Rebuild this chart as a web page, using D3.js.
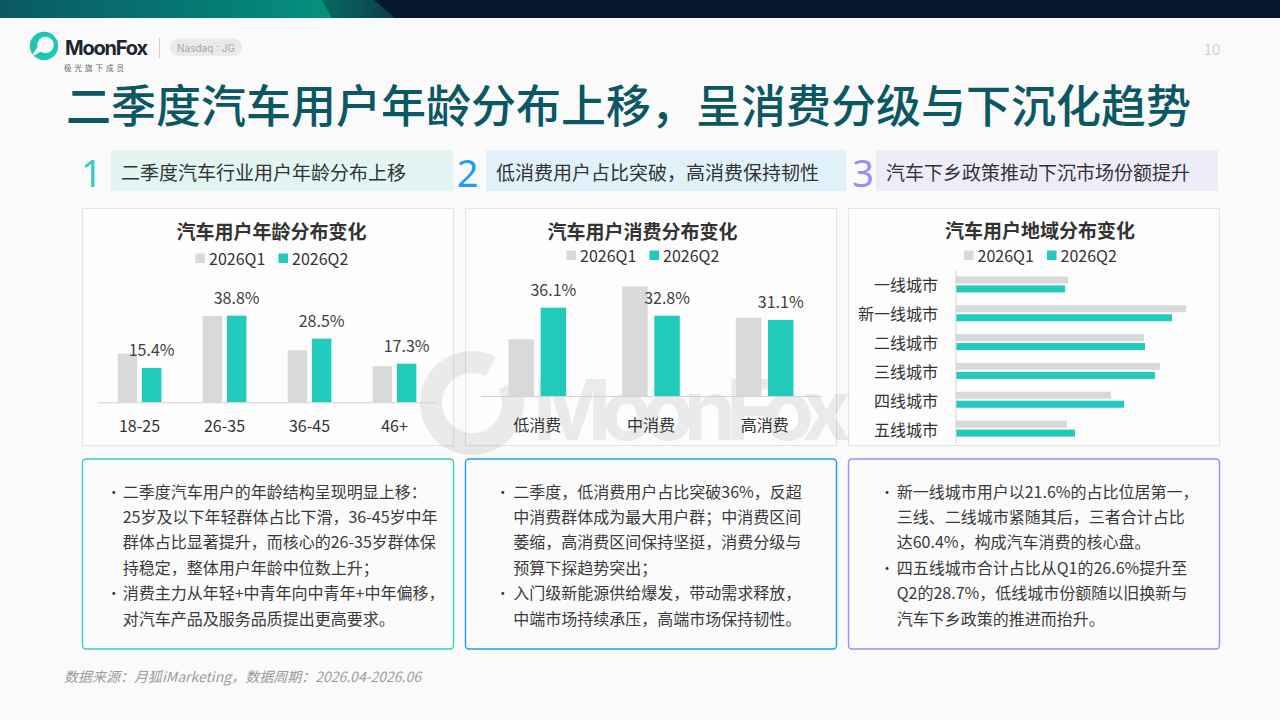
<!DOCTYPE html>
<html>
<head>
<meta charset="utf-8">
<script src="https://cdn.jsdelivr.net/npm/d3@7"></script>
<style>
	body { margin: 0; background: #fafafa; }
	svg { display: block; font-family: "Noto Sans CJK SC", "Noto Sans", sans-serif; }
</style>
</head>
<body>
<div id="slide"></div>
<script>
// chart data
var seriesNames = ['2026Q1', '2026Q2'];

var ageGroups = ['18-25', '26-35', '36-45', '46+'];
var ageQ1 = [21.8, 38.7, 23.3, 16.2];
var ageQ2 = [15.4, 38.8, 28.5, 17.3];

var spendGroups = ['低消费', '中消费', '高消费'];
var spendQ1 = [23.2, 44.8, 32.0];
var spendQ2 = [36.1, 32.8, 31.1];

var cityTiers = ['一线城市', '新一线城市', '二线城市', '三线城市', '四线城市', '五线城市'];
var cityQ1 = [11.2, 23.0, 18.8, 20.4, 15.5, 11.1];
var cityQ2 = [10.9, 21.6, 18.9, 19.9, 16.8, 11.9];

var chartTitles = ['汽车用户年龄分布变化', '汽车用户消费分布变化', '汽车用户地域分布变化'];
var headers = ['二季度汽车行业用户年龄分布上移', '低消费用户占比突破，高消费保持韧性', '汽车下乡政策推动下沉市场份额提升'];
var notes = [
	[['二季度汽车用户的年龄结构呈现明显上移：', '25岁及以下年轻群体占比下滑，36-45岁中年', '群体占比显著提升，而核心的26-35岁群体保', '持稳定，整体用户年龄中位数上升；'],
	 ['消费主力从年轻+中青年向中青年+中年偏移，', '对汽车产品及服务品质提出更高要求。']],
	[['二季度，低消费用户占比突破36%，反超', '中消费群体成为最大用户群；中消费区间', '萎缩，高消费区间保持坚挺，消费分级与', '预算下探趋势突出；'],
	 ['入门级新能源供给爆发，带动需求释放，', '中端市场持续承压，高端市场保持韧性。']],
	[['新一线城市用户以21.6%的占比位居第一，', '三线、二线城市紧随其后，三者合计占比', '达60.4%，构成汽车消费的核心盘。'],
	 ['四五线城市合计占比从Q1的26.6%提升至', 'Q2的28.7%，低线城市份额随以旧换新与', '汽车下乡政策的推进而抬升。']]
];

var grey = '#d9d9d9';
var teal = '#21cbbc';
var accents = ['#36d0c0', '#1f9df0', '#9b8ef0'];
var headerFills = ['#e2f5f2', '#e1f1fa', '#eeecf9'];
var cols = [82, 465, 848];
var colW = 371;

var svg = d3.select('#slide')
	.append('svg')
	.attr('width', 1280)
	.attr('height', 720);

svg.append('rect').attr('width', 1280).attr('height', 720).attr('fill', '#fafafa');

// top band
var defs = svg.append('defs');
var bandGrad = defs.append('linearGradient').attr('id', 'band-grad');
bandGrad.append('stop').attr('offset', '0%').attr('stop-color', '#0b5864');
bandGrad.append('stop').attr('offset', '70%').attr('stop-color', '#037f77');
bandGrad.append('stop').attr('offset', '100%').attr('stop-color', '#07917e');
var midGrad = defs.append('linearGradient').attr('id', 'mid-grad');
midGrad.append('stop').attr('offset', '0%').attr('stop-color', '#066a62');
midGrad.append('stop').attr('offset', '100%').attr('stop-color', '#0b3e48');

svg.append('rect').attr('width', 1280).attr('height', 18).attr('fill', '#051729');
svg.append('polygon').attr('points', '322,0 374,0 395,18 332,18').attr('fill', 'url(#mid-grad)');
svg.append('polygon').attr('points', '0,0 322,0 332,18 0,18').attr('fill', 'url(#band-grad)');

// logo
var logo = svg.append('g');
logo.append('circle').attr('cx', 44).attr('cy', 46).attr('r', 14.2).attr('fill', '#1ec7b2');
logo.append('circle').attr('cx', 45.5).attr('cy', 45).attr('r', 8.3).attr('fill', '#fafafa');
logo.append('path').attr('d', 'M37.5,47 L31,57 L42,51 Z').attr('fill', '#fafafa');
logo.append('text')
	.attr('x', 65).attr('y', 48)
	.attr('dominant-baseline', 'central')
	.attr('font-family', 'Inter, "Noto Sans", sans-serif')
	.attr('font-weight', 700)
	.attr('font-size', 20)
	.attr('textLength', 83)
	.attr('fill', '#1b2631')
	.text('MoonFox');
logo.append('text')
	.attr('x', 64).attr('y', 67.5)
	.attr('dominant-baseline', 'central')
	.attr('font-size', 7.5)
	.attr('letter-spacing', 3)
	.attr('fill', '#666')
	.text('极光旗下成员');
logo.append('line')
	.attr('x1', 159.5).attr('x2', 159.5).attr('y1', 38).attr('y2', 58)
	.attr('stroke', '#cfcfcf');
logo.append('rect')
	.attr('x', 170).attr('y', 38.5).attr('width', 72).attr('height', 17.5).attr('rx', 8.75)
	.attr('fill', '#e8eaed');
logo.append('text')
	.attr('x', 206).attr('y', 47.5)
	.attr('text-anchor', 'middle')
	.attr('dominant-baseline', 'central')
	.attr('font-family', 'Inter, "Noto Sans", sans-serif')
	.attr('font-size', 10)
	.attr('fill', '#a3a7ab')
	.text('Nasdaq : JG');

svg.append('text')
	.attr('x', 1212).attr('y', 48)
	.attr('text-anchor', 'middle')
	.attr('dominant-baseline', 'central')
	.attr('font-size', 15)
	.attr('fill', '#d2d2d2')
	.text('10');

// title
svg.append('text')
	.attr('x', 66).attr('y', 103)
	.attr('dominant-baseline', 'central')
	.attr('font-size', 45)
	.attr('font-weight', 500)
	.attr('fill', '#0b5763')
	.text('二季度汽车用户年龄分布上移，呈消费分级与下沉化趋势');

// section headers
var headerBoxes = [[111, 453], [486, 846], [876, 1218]];
var headerNums = [91.5, 467.5, 863];
headers.forEach((h, i) => {
	svg.append('rect')
		.attr('x', headerBoxes[i][0]).attr('y', 150)
		.attr('width', headerBoxes[i][1] - headerBoxes[i][0]).attr('height', 41)
		.attr('fill', headerFills[i]);
	svg.append('text')
		.attr('x', headerBoxes[i][0] + 10).attr('y', 171)
		.attr('dominant-baseline', 'central')
		.attr('font-size', 19)
		.attr('fill', '#333')
		.text(h);
	svg.append('text')
		.attr('x', headerNums[i]).attr('y', 172)
		.attr('text-anchor', 'middle')
		.attr('dominant-baseline', 'central')
		.attr('font-family', '"Noto Sans", sans-serif')
		.attr('font-size', 38)
		.attr('fill', accents[i])
		.text(i + 1);
});

// chart panels
cols.forEach(x0 => {
	svg.append('rect')
		.attr('x', x0 + 0.5).attr('y', 208.5)
		.attr('width', colW).attr('height', 237)
		.attr('fill', '#fdfdfd')
		.attr('stroke', '#e4e4e4');
});

// watermark sits behind the marks
var wm = svg.append('g').attr('opacity', 0.07);
wm.append('path')
	.attr('d', d3.arc().innerRadius(30).outerRadius(52).startAngle(0.35 * Math.PI).endAngle(2.15 * Math.PI)())
	.attr('transform', 'translate(472, 403)')
	.attr('fill', '#000');
wm.append('text')
	.attr('x', 533).attr('y', 440)
	.attr('font-family', 'Inter, "Noto Sans", sans-serif')
	.attr('font-weight', 700)
	.attr('font-size', 84)
	.attr('textLength', 318)
	.attr('fill', '#000')
	.text('MoonFox');

var titleX = [271.5, 642.5, 1040];
var titleY = [230, 230, 229];
var legendY = [258, 255, 255];
chartTitles.forEach((t, i) => {
	svg.append('text')
		.attr('x', titleX[i]).attr('y', titleY[i])
		.attr('text-anchor', 'middle')
		.attr('dominant-baseline', 'central')
		.attr('font-size', 19)
		.attr('font-weight', 700)
		.attr('fill', '#333')
		.text(t);

	var legend = svg.append('g')
		.attr('transform', `translate(${titleX[i]}, ${legendY[i]})`);
	[[-76, grey], [7, teal]].forEach((l, j) => {
		legend.append('rect')
			.attr('x', l[0]).attr('y', -4.5)
			.attr('width', 9.5).attr('height', 9.5)
			.attr('fill', l[1]);
		legend.append('text')
			.attr('x', l[0] + 13.5).attr('y', 0)
			.attr('dominant-baseline', 'central')
			.attr('font-size', 16)
			.attr('fill', '#333')
			.text(seriesNames[j]);
	});
});

function columnChart(cats, q1, q2, cfg) {
	var x = d3.scaleBand().domain(cats).range(cfg.xRange);
	var y = d3.scaleLinear().domain(cfg.yDomain).range(cfg.yRange);
	var g = svg.append('g');
	var mid = d => x(d) + x.bandwidth() / 2;

	g.selectAll('.q1').data(cats).enter().append('rect')
		.attr('x', d => mid(d) - cfg.gap / 2 - cfg.bw)
		.attr('y', (d, i) => y(q1[i]))
		.attr('width', cfg.bw)
		.attr('height', (d, i) => y(0) - y(q1[i]))
		.attr('fill', grey);

	g.selectAll('.q2').data(cats).enter().append('rect')
		.attr('x', d => mid(d) + cfg.gap / 2)
		.attr('y', (d, i) => y(q2[i]))
		.attr('width', cfg.bw)
		.attr('height', (d, i) => y(0) - y(q2[i]))
		.attr('fill', teal);

	g.selectAll('.val').data(cats).enter().append('text')
		.attr('x', d => mid(d) + cfg.gap / 2 + cfg.bw / 2)
		.attr('y', (d, i) => y(q2[i]) - 19)
		.attr('text-anchor', 'middle')
		.attr('dominant-baseline', 'central')
		.attr('font-size', 16)
		.attr('fill', '#404040')
		.text((d, i) => d3.format('.1f')(q2[i]) + '%');

	var axis = g.append('g')
		.attr('transform', `translate(0, ${cfg.yRange[0]})`)
		.call(d3.axisBottom(x).tickSize(0).tickSizeOuter(0));
	axis.attr('font-family', null).attr('font-size', null);
	axis.select('.domain').attr('stroke', '#d2d2d2');
	axis.selectAll('text')
		.attr('y', cfg.labelDy).attr('dy', null)
		.attr('dominant-baseline', 'central')
		.attr('font-size', 16)
		.attr('fill', '#333');
}

columnChart(ageGroups, ageQ1, ageQ2, {
	xRange: [97, 437], yDomain: [0, 40], yRange: [402.3, 313], bw: 19.5, gap: 4.8, labelDy: 22.7
});
columnChart(spendGroups, spendQ1, spendQ2, {
	xRange: [480.5, 821.5], yDomain: [0, 45], yRange: [396, 285.9], bw: 25.5, gap: 6.6, labelDy: 28
});

// regional horizontal bars
var cx = d3.scaleLinear().domain([0, 24]).range([956, 1196]);
var cy = d3.scaleBand().domain(cityTiers).range([270, 443]);
var cityG = svg.append('g');
var barH = 7, barGap = 2;

cityG.selectAll('.q1').data(cityTiers).enter().append('rect')
	.attr('x', cx(0))
	.attr('y', d => cy(d) + cy.bandwidth() / 2 - barGap / 2 - barH)
	.attr('width', (d, i) => cx(cityQ1[i]) - cx(0))
	.attr('height', barH)
	.attr('fill', grey);

cityG.selectAll('.q2').data(cityTiers).enter().append('rect')
	.attr('x', cx(0))
	.attr('y', d => cy(d) + cy.bandwidth() / 2 + barGap / 2)
	.attr('width', (d, i) => cx(cityQ2[i]) - cx(0))
	.attr('height', barH)
	.attr('fill', teal);

var cityAxis = cityG.append('g')
	.attr('transform', 'translate(955.5, 0)')
	.call(d3.axisLeft(cy).tickSize(0).tickSizeOuter(0).tickPadding(17.5));
cityAxis.attr('font-family', null).attr('font-size', null);
cityAxis.select('.domain').attr('stroke', '#d2d2d2');
cityAxis.selectAll('text')
	.attr('dy', null)
	.attr('dominant-baseline', 'central')
	.attr('font-size', 16)
	.attr('fill', '#333');

// commentary boxes
var bulletDx = [24.7, 30.7, 32];
var textDx = [40.7, 48.3, 48.7];
notes.forEach((box, i) => {
	svg.append('rect')
		.attr('x', cols[i] + 0.5).attr('y', 459)
		.attr('width', colW).attr('height', 190)
		.attr('rx', 3.5)
		.attr('fill', '#fbfbfb')
		.attr('stroke', accents[i])
		.attr('stroke-width', 1.4);
	var line = 0;
	box.forEach(para => {
		svg.append('text')
			.attr('x', cols[i] + bulletDx[i]).attr('y', 490.5 + line * 25.4)
			.attr('dominant-baseline', 'central')
			.attr('font-size', 14)
			.attr('fill', '#333')
			.text('•');
		para.forEach(s => {
			svg.append('text')
				.attr('x', cols[i] + textDx[i]).attr('y', 490.5 + line * 25.4)
				.attr('dominant-baseline', 'central')
				.attr('font-size', 16)
				.attr('fill', '#3a3a3a')
				.text(s);
			line++;
		});
	});
});

svg.append('text')
	.attr('x', 64).attr('y', 676)
	.attr('dominant-baseline', 'central')
	.attr('font-size', 14)
	.attr('font-style', 'italic')
	.attr('fill', '#9c9c9c')
	.text('数据来源：月狐iMarketing，数据周期：2026.04-2026.06');
</script>
</body>
</html>
